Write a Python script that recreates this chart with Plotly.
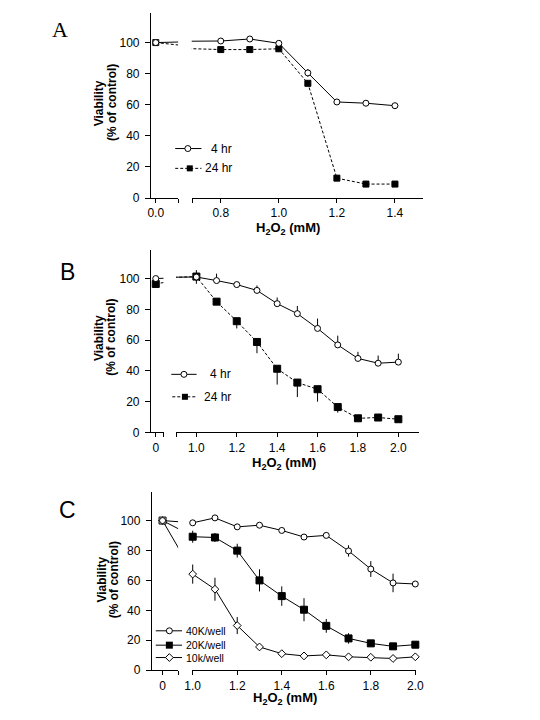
import plotly.graph_objects as go

# ---------------- data ----------------
A_x = [0.0, 0.8, 0.9, 1.0, 1.1, 1.2, 1.3, 1.4]
A_4hr = [100, 101, 102.3, 99.5, 80.5, 61.8, 61.0, 59.4]
A_4hr_err = [0, 0, 0, 0, 2.5, 0, 0, 0]
A_24hr = [100, 95.5, 95.5, 96.0, 73.8, 12.8, 9.0, 9.0]

B_x = [0.0, 1.0, 1.1, 1.2, 1.3, 1.4, 1.5, 1.6, 1.7, 1.8, 1.9, 2.0]
B_4hr = [100, 101, 98.7, 96.1, 92.3, 83.7, 77.2, 67.6, 56.9, 48.1, 45.0, 45.7]
B_4hr_err_up = [0, 4.5, 4.5, 1.5, 3.2, 4.0, 5.0, 6.4, 6.0, 4.3, 5.0, 5.5]
B_24hr = [96.5, 101.3, 85.0, 72.3, 58.8, 41.4, 32.4, 28.1, 16.5, 9.2, 9.7, 8.6]
B_24hr_err_down = [0, 4.7, 0, 4.7, 7.3, 10.3, 9.4, 8.1, 3.6, 0, 0, 0]

C_x = [0.0, 1.0, 1.1, 1.2, 1.3, 1.4, 1.5, 1.6, 1.7, 1.8, 1.9, 2.0]
C_40k = [100, 98.5, 101.8, 95.8, 96.9, 93.4, 89.0, 90.1, 79.7, 67.6, 58.3, 57.6]
C_40k_err = [0, 0, 0, 0, 0, 0, 0, 1.5, 3.8, 5.3, 6.2, 0]
C_20k = [100, 89.2, 88.7, 79.9, 60.0, 49.5, 40.4, 29.6, 21.2, 17.9, 15.9, 17.0]
C_20k_err = [0, 4.0, 3.0, 4.6, 7.4, 6.5, 7.7, 4.6, 3.5, 0, 0, 0]
C_10k = [100, 64.2, 54.1, 29.8, 15.5, 11.0, 9.5, 10.2, 8.9, 8.6, 7.8, 8.9]
C_10k_err = [0, 6.4, 7.7, 5.7, 0, 0, 0, 0, 0, 0, 0, 0]

y_ticks = [0, 20, 40, 60, 80, 100]
A_seg2_ticks = [0.8, 1.0, 1.2, 1.4]
BC_seg2_ticks = [1.0, 1.2, 1.4, 1.6, 1.8, 2.0]

# ---------------- layout helpers ----------------
W, H = 540, 720
def px(x):
    return x / W
def py(y):
    return 1 - y / H

FONT = "Liberation Sans, Arial, sans-serif"
fig = go.Figure()

panels = {
    "A": dict(y="y", ydom=(200, 13), yr=[0, 119.1],
              s1=("x", (148, 176), [-0.06, 0.274], "0.0"),
              s2=("x2", (190, 428), [0.7, 1.497], A_seg2_ticks)),
    "B": dict(y="y2", ydom=(436.7, 252.7), yr=[0, 118.4],
              s1=("x3", (148, 161), [-0.119, 0.19], "0"),
              s2=("x4", (174, 423.3), [0.9, 2.1], BC_seg2_ticks)),
    "C": dict(y="y3", ydom=(676.7, 497.3), yr=[0, 118.8],
              s1=("x5", (149, 176), [-0.344, 0.5], "0"),
              s2=("x6", (190, 421), [0.9956, 2.0044], BC_seg2_ticks)),
}

layout = {}
common_x = dict(showline=True, linecolor="black", linewidth=1, ticks="outside",
                ticklen=4, tickcolor="black", tickwidth=1, showgrid=False, zeroline=False,
                tickfont=dict(family=FONT, size=12, color="black"), fixedrange=True)
for key, p in panels.items():
    yname = "yaxis" + ("" if p["y"] == "y" else p["y"][1:])
    x1, d1, r1, zl = p["s1"]
    x2, d2, r2, t2 = p["s2"]
    layout[yname] = dict(domain=[py(p["ydom"][0]), py(p["ydom"][1])], range=p["yr"],
                         anchor=x1, showline=True, linecolor="black", linewidth=1,
                         ticks="outside", ticklen=5, tickcolor="black", showgrid=False,
                         zeroline=False, tickvals=y_ticks, ticklabelstandoff=3,
                         tickfont=dict(family=FONT, size=12, color="black"), fixedrange=True)
    n1 = "xaxis" + ("" if x1 == "x" else x1[1:])
    n2 = "xaxis" + x2[1:]
    end1 = r1[1] - (r1[1] - r1[0]) * 0.002
    layout[n1] = dict(common_x, domain=[px(d1[0]), px(d1[1])], range=r1, anchor=p["y"],
                      tickvals=[0, end1], ticktext=[zl, ""])
    start2 = r2[0] + (r2[1] - r2[0]) * 0.002
    tv = list(t2)
    tt = ["%.1f" % v for v in t2]
    if t2[0] - r2[0] > 0.02:
        tv = [start2] + tv
        tt = [""] + tt
    layout[n2] = dict(common_x, domain=[px(d2[0]), px(d2[1])], range=r2, anchor=p["y"],
                      tickvals=tv, ticktext=tt)

# overlay axis for legend samples (pixel space)
layout["xaxis7"] = dict(domain=[0, 1], range=[0, W], visible=False, anchor="y4", fixedrange=True)
layout["yaxis4"] = dict(domain=[0, 1], range=[H, 0], visible=False, anchor="x7", fixedrange=True)


def add_series(panel, xs, ys, line, marker, err=None):
    p = panels[panel]
    for seg in ("s1", "s2"):
        xa = p[seg][0]
        rng = p[seg][2]
        fig.add_trace(go.Scatter(x=xs, y=ys, mode="lines", line=line, xaxis=xa, yaxis=p["y"],
                                 hoverinfo="skip", showlegend=False))
        idx = [i for i, v in enumerate(xs) if rng[0] - 1e-9 <= v <= rng[1] + 1e-9]
        mk = dict(marker)
        if isinstance(marker.get("color"), list):
            mk["color"] = [marker["color"][i] for i in idx]
        tr = dict(x=[xs[i] for i in idx], y=[ys[i] for i in idx], mode="markers", marker=mk,
                  xaxis=xa, yaxis=p["y"], cliponaxis=False, showlegend=False, hoverinfo="skip")
        if err is not None:
            e = dict(type="data", color="black", thickness=1, width=0, visible=True)
            if "plus" in err:
                e["symmetric"] = False
                e["array"] = [err["plus"][i] for i in idx]
                e["arrayminus"] = [err["minus"][i] for i in idx]
            else:
                e["array"] = [err["sym"][i] for i in idx]
            tr["error_y"] = e
        fig.add_trace(go.Scatter(**tr))


solid = dict(color="black", width=1)
dashed = dict(color="black", width=1, dash="3px,2px")
open_circle = dict(symbol="circle", size=6, color="white", line=dict(color="black", width=1))
zeros = [0] * 12

# Panel A
add_series("A", A_x, A_24hr, dashed,
           dict(symbol="square", size=6, color=["white"] + ["black"] * 7,
                line=dict(color="black", width=1)))
add_series("A", A_x, A_4hr, solid, open_circle, err=dict(sym=A_4hr_err))

# Panel B
add_series("B", B_x, B_24hr, dashed,
           dict(symbol="square", size=7, color="black", line=dict(color="black", width=1)),
           err=dict(plus=zeros, minus=B_24hr_err_down))
add_series("B", B_x, B_4hr, solid, open_circle, err=dict(plus=B_4hr_err_up, minus=zeros))

# Panel C
add_series("C", C_x, C_10k, solid,
           dict(symbol="diamond", size=6, color="white", line=dict(color="black", width=1)),
           err=dict(sym=C_10k_err))
add_series("C", C_x, C_20k, solid,
           dict(symbol="square", size=7, color=["white"] + ["black"] * 11,
                line=dict(color="black", width=1)),
           err=dict(sym=C_20k_err))
add_series("C", C_x, C_40k, solid, open_circle, err=dict(sym=C_40k_err))

# ---------------- legends (drawn manually) ----------------
legend_items = [
    (173, 200, 186, 150, solid, open_circle, "4 hr", 233, "right", 12),
    (173, 200, 188, 170, dashed, dict(symbol="square", size=6, color="black"), "24 hr", 233, "right", 12),
    (169, 195, 182, 378, solid, open_circle, "4 hr", 232, "right", 12),
    (170, 195, 183, 400.7, dashed, dict(symbol="square", size=6, color="black"), "24 hr", 232, "right", 12),
    (153, 180, 167, 637, solid, dict(open_circle, size=6), "40K/well", 182, "left", 10.5),
    (153, 180, 167, 651.5, solid, dict(symbol="square", size=7, color="black"), "20K/well", 182, "left", 10.5),
    (153, 180, 167, 664, solid, dict(symbol="diamond", size=6, color="white",
                                     line=dict(color="black", width=1)), "10k/well", 182, "left", 10.5),
]
annotations = []
for x0, x1, xm, yy, ln, mk, lab, tx, anc, fs in legend_items:
    fig.add_trace(go.Scatter(x=[x0, x1], y=[yy, yy], mode="lines", line=ln, xaxis="x7", yaxis="y4",
                             hoverinfo="skip", showlegend=False))
    fig.add_trace(go.Scatter(x=[xm], y=[yy], mode="markers", marker=mk, xaxis="x7", yaxis="y4",
                             hoverinfo="skip", showlegend=False))
    annotations.append(dict(x=px(tx), y=py(yy), xref="paper", yref="paper", text=lab,
                            showarrow=False, xanchor=anc, yanchor="middle",
                            font=dict(family=FONT, size=fs, color="black")))

# panel letters
annotations.append(dict(x=px(55), y=py(30), xref="paper", yref="paper", text="A", showarrow=False,
                        xanchor="center", yanchor="middle",
                        font=dict(family="Liberation Serif, Times New Roman, serif", size=22, color="black")))
for lab, (lx, ly) in {"B": (62, 275), "C": (62, 515)}.items():
    annotations.append(dict(x=px(lx), y=py(ly), xref="paper", yref="paper", text=lab, showarrow=False,
                            xanchor="center", yanchor="middle",
                            font=dict(family=FONT, size=23, color="black")))

# axis titles
for cy, cx1, cx2 in [(104, 95, 108), (341, 94, 107), (585, 98, 110)]:
    annotations.append(dict(x=px(cx1), y=py(cy), xref="paper", yref="paper", text="<b>Viability</b>",
                            textangle=-90, showarrow=False, xanchor="center", yanchor="middle",
                            font=dict(family=FONT, size=12, color="black")))
    annotations.append(dict(x=px(cx2), y=py(cy), xref="paper", yref="paper", text="<b>(% of control)</b>",
                            textangle=-90, showarrow=False, xanchor="center", yanchor="middle",
                            font=dict(family=FONT, size=12, color="black")))
for cx, cy in [(289, 231), (285, 468), (286, 705)]:
    annotations.append(dict(x=px(cx), y=py(cy), xref="paper", yref="paper",
                            text="<b>H<sub>2</sub>O<sub>2</sub> (mM)</b>", showarrow=False,
                            xanchor="center", yanchor="middle",
                            font=dict(family=FONT, size=13, color="black")))

fig.update_layout(width=W, height=H, margin=dict(l=0, r=0, t=0, b=0), autosize=False,
                  paper_bgcolor="white", plot_bgcolor="rgba(0,0,0,0)", showlegend=False,
                  annotations=annotations, **layout)

fig.write_html("out.html", config={"displayModeBar": False},
               post_script="document.body.style.margin='0px';")
